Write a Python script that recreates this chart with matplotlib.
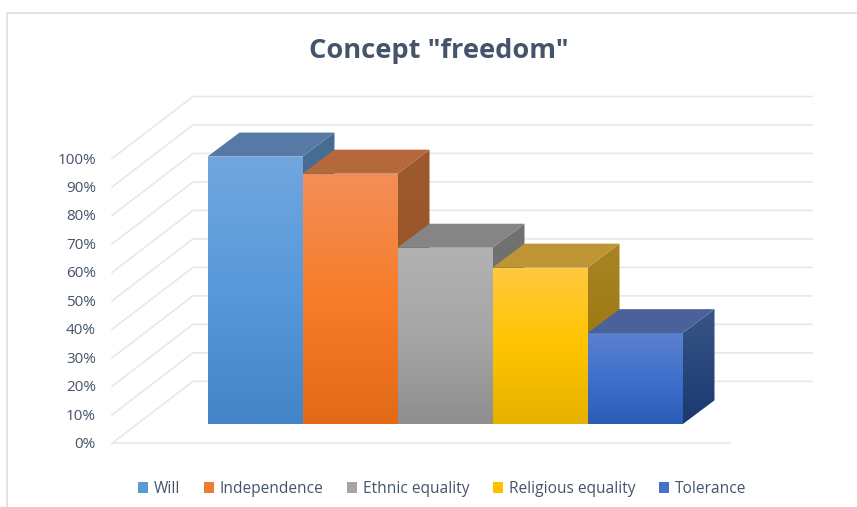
#3d looking bar chart of the concept "freedom", drawn on a plain axes
import matplotlib
matplotlib.use('Agg')
import matplotlib.pyplot as plt
import numpy as np
from matplotlib.colors import LinearSegmentedColormap
from matplotlib.lines import Line2D
from matplotlib.patches import Patch, Polygon

categories = ['Will', 'Independence', 'Ethnic equality', 'Religious equality', 'Tolerance']
values = [94, 88, 62, 55, 32]
tick_values = [0, 10, 20, 30, 40, 50, 60, 70, 80, 90, 100]
tick_labels = ['0%', '10%', '20%', '30%', '40%', '50%', '60%', '70%', '80%', '90%', '100%']

legend_colors = ['#5B9BD5', '#ED7D31', '#A5A5A5', '#FFC000', '#4472C4']
front_colors = [['#72A6DF', '#5799DB', '#4484C8'],
                ['#F28E57', '#F87C2A', '#E26A17'],
                ['#B2B2B2', '#A6A6A6', '#8E8E8E'],
                ['#FFC93F', '#FFC400', '#E6B200'],
                ['#5C81CF', '#3F70CC', '#2B5DB6']]
top_colors = ['#5679A6', '#B5683C', '#858585', '#BE9535', '#4A6299']
side_colors = [['#466C92', '#466C92'],
               ['#9C5A2E', '#94501F'],
               ['#727272', '#6A6A6A'],
               ['#A88425', '#957200'],
               ['#385586', '#1A3970']]

text_color = '#44546A'
grid_color = '#E6E8EF'
frame_color = '#DCE0E6'

W, H = 857, 507
px_cat = 95.0     # pixels per bar
px_val = 2.848    # pixels per percent
bar_left = 207.5  # pixel x of first bar
bar_base = 424.3  # pixel y of bar bottoms

# depth of a bar and of the floor, in data units
bar_dx, bar_dy = 32 / px_cat, 24 / px_val
floor_dx, floor_dy = 81 / px_cat, 62 / px_val
# front corner of floor and back wall, in data units
front_x = (112 - bar_left) / px_cat
front_right = (730 - bar_left) / px_cat
back_right = (812 - bar_left) / px_cat
floor_y = (bar_base - 443.3) / px_val

fig = plt.figure(figsize=(W / 100, H / 100), dpi=100)
ax = fig.add_axes([0, 0, 1, 1])
xlim = (-bar_left / px_cat, (W - bar_left) / px_cat)
ylim = ((bar_base - H) / px_val, bar_base / px_val)
ax.axis('off')

plt.rcParams['font.family'] = ['Open Sans', 'DejaVu Sans']


def gradient_face(points, colors, zorder):
    # fill a polygon with a vertical colour gradient
    pts = np.array(points)
    cmap = LinearSegmentedColormap.from_list('face', colors)
    grad = np.linspace(0, 1, 256).reshape(-1, 1)
    im = ax.imshow(grad, cmap=cmap, aspect='auto', origin='upper', zorder=zorder,
                   extent=[pts[:, 0].min(), pts[:, 0].max(), pts[:, 1].min(), pts[:, 1].max()])
    clip = Polygon(pts, transform=ax.transData, facecolor='none', edgecolor='none')
    ax.add_patch(clip)
    im.set_clip_path(clip)


# grid lines, slanted side wall then back wall
for t, label in zip(tick_values, tick_labels):
    y = floor_y + t
    if t == 0:
        ax.plot([front_x, front_right], [y, y], color=grid_color, lw=1.2, zorder=1)
    ax.plot([front_x, front_x + floor_dx, back_right],
            [y, y + floor_dy, y + floor_dy], color=grid_color, lw=1.2, zorder=1)
    ax.text(front_x - 16 / px_cat, y - 1.5 / px_val, label, ha='right', va='center',
            color=text_color, fontsize=11)

# bars
for i, (v, fc, tc, sc) in enumerate(zip(values, front_colors, top_colors, side_colors)):
    z = 2 + i
    front = [(i, 0), (i + 1, 0), (i + 1, v), (i, v)]
    gradient_face(front, fc, z)
    side = [(i + 1, 0), (i + 1 + bar_dx, bar_dy), (i + 1 + bar_dx, v + bar_dy), (i + 1, v)]
    gradient_face(side, sc, z)
    top = [(i, v), (i + 1, v), (i + 1 + bar_dx, v + bar_dy), (i + bar_dx, v + bar_dy)]
    ax.add_patch(Polygon(top, facecolor=tc, edgecolor='none', zorder=z))

ax.set_xlim(xlim)
ax.set_ylim(ylim)

# outer frame of the chart
fig.add_artist(Line2D([7 / W, 7 / W, 1], [0, 1 - 12.5 / H, 1 - 12.5 / H], color=frame_color, lw=1.2))

fig.text(439 / W, 1 - 51 / H, 'Concept "freedom"', ha='center', va='center',
         color=text_color, fontsize=19.6, fontweight='bold')

handles = [Patch(facecolor=c, edgecolor='none') for c in legend_colors]
fig.legend(handles, categories, ncol=5, loc='center', bbox_to_anchor=(442 / W, 1 - 489 / H),
           frameon=False, fontsize=11.2, labelcolor=text_color, handlelength=0.65, handleheight=0.65,
           handletextpad=0.35, columnspacing=1.54)

plt.savefig('out.png', dpi=100)
